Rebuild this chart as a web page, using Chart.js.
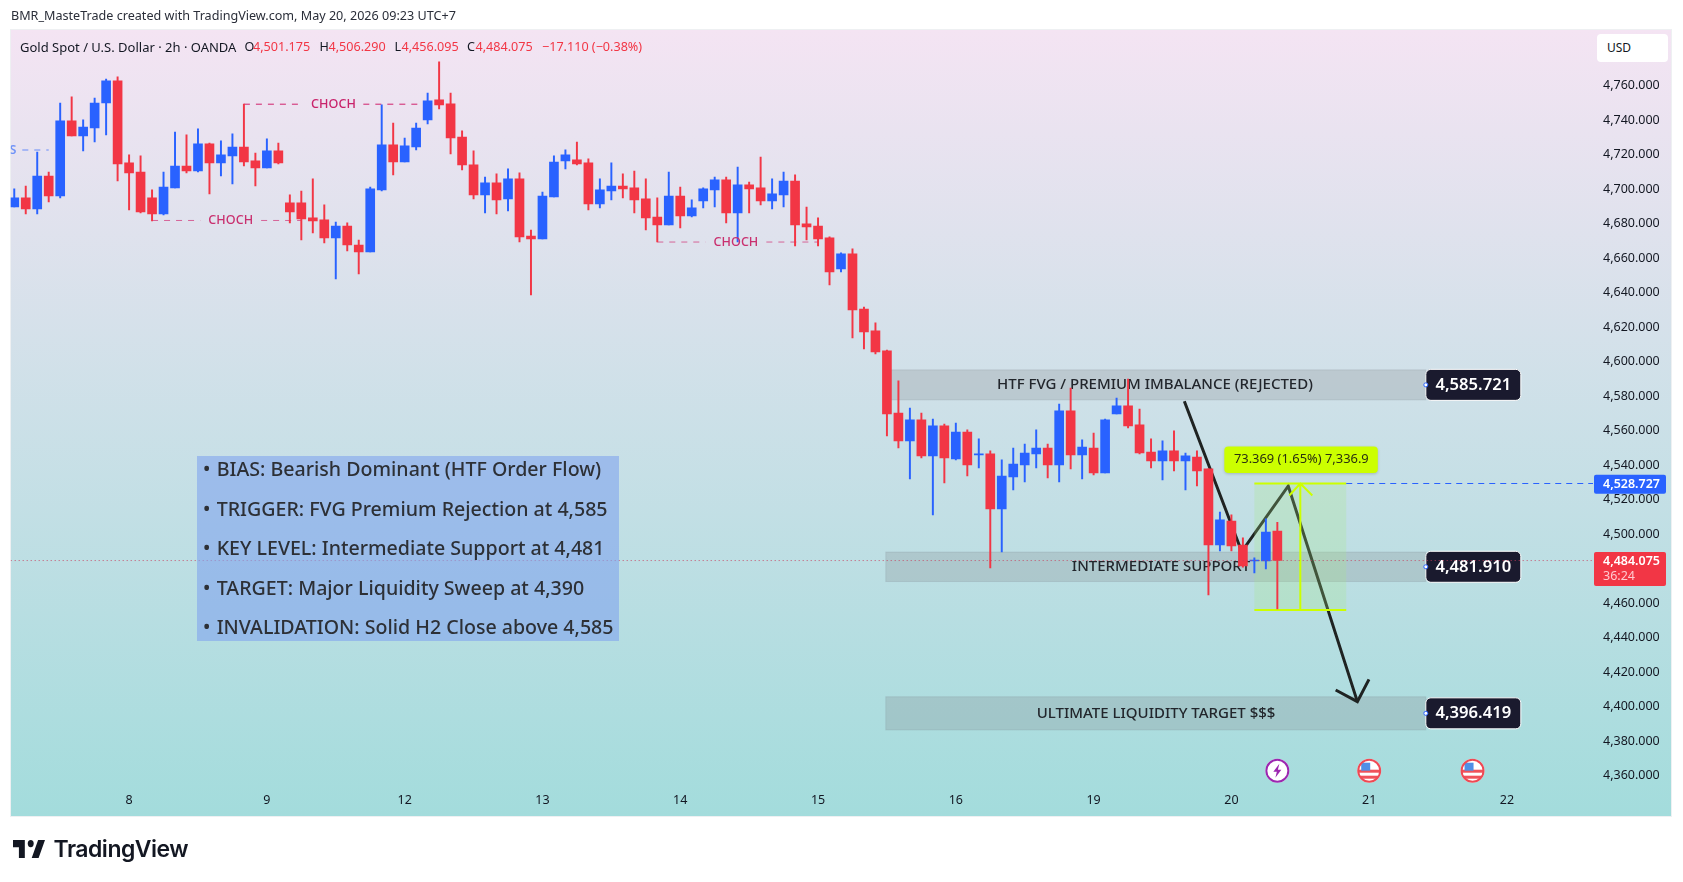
<!DOCTYPE html>
<html>
<head>
<meta charset="utf-8">
<title>Gold Spot / U.S. Dollar 2h</title>
<script src="https://cdn.jsdelivr.net/npm/chart.js"></script>
<style>
    html, body { margin: 0; padding: 0; background: #fff; width: 1683px; height: 882px; overflow: hidden; font-family: 'Noto Sans', sans-serif; }
    #pane { position: absolute; left: 10px; top: 29px; width: 1662px; height: 788px; border: 1px solid #eef0f2; box-sizing: border-box; background: linear-gradient(#f4e4f3, #a3dcdc); }
    canvas { position: absolute; left: 0; top: 0; }
    .t { position: absolute; white-space: pre; line-height: 18px; }
    #credit { left: 11px; top: 7px; font-size: 12.6px; color: #2a2e39; }
    #legend span { position: absolute; top: 38px; white-space: pre; line-height: 18px; font-size: 12.6px; color: #131722; }
    #legend .title { font-size: 13px; }
    #legend .r { color: #f23645; }
    #usd { position: absolute; left: 1597px; top: 34px; width: 71px; height: 28px; background: #fff; border-radius: 4px; font-size: 12px; line-height: 28px; color: #131722; text-indent: 10px; }
    #info { position: absolute; left: 197px; top: 456px; width: 422px; height: 185px; background: rgba(130, 167, 238, 0.62); }
    #info div { position: absolute; left: 6px; white-space: pre; height: 26px; line-height: 26px; font-size: 19.6px; font-weight: 500; color: #2d3036; }
    #info i { display: inline-block; width: 13.7px; font-style: normal; }
    #logo { position: absolute; left: 13px; top: 840px; }
    #logoText { position: absolute; left: 53.5px; top: 832px; font-family: Inter, sans-serif; font-weight: 600; font-size: 23px; line-height: 34px; letter-spacing: -0.5px; color: #131722; }
</style>
</head>
<body>
<div id="pane"></div>
<canvas id="chart" width="1683" height="882"></canvas>
<div class="t" id="credit">BMR_MasteTrade created with TradingView.com, May 20, 2026 09:23 UTC+7</div>
<div id="legend"></div>
<div id="usd">USD</div>
<div id="info"></div>
<svg id="logo" width="32" height="18" viewBox="2 6 32.5 15" preserveAspectRatio="none"><path d="M14 6H2v6h6v9h6V6zM28 21h-7l6.5-15h7L28 21z" fill="#131722"/><circle cx="20" cy="9" r="3" fill="#131722"/></svg>
<div id="logoText">TradingView</div>

<script>
// 2h bars, oldest first
const opens = [4689,4694.3,4687.9,4707,4695.4,4738.9,4730.2,4734.8,4749.3,4762.1,4714.6,4709.3,4694.3,4685,4700.1,4712.8,4709.9,4725.6,4714.6,4718.6,4723.8,4715.7,4711.7,4721.5,4691.4,4691.4,4682.7,4681.5,4671.1,4678,4667,4663,4698.9,4725,4715.1,4723.8,4739.5,4751.1,4748.8,4729.6,4713.4,4696,4703,4693.7,4705.3,4672.2,4670.5,4694.8,4715.7,4716.3,4714.6,4690.8,4698.3,4701.2,4700.1,4693.7,4683.2,4678.6,4695.4,4683.8,4692.5,4698.9,4704.7,4685.6,4701.8,4700.1,4692.5,4696,4704.1,4679.2,4678,4671.1,4653.1,4661.8,4629.9,4617.2,4605.6,4569.6,4553.4,4565.6,4544.7,4562.1,4543,4558.6,4545.3,4545.9,4514,4532.5,4539.5,4545.9,4549.3,4539.5,4570.8,4545.3,4549.3,4534.8,4569,4573.7,4562.7,4547,4541.8,4547.6,4541.8,4544.1,4537.2,4493.1,4507,4493.1,4483.8,4483.8,4501.175];
const highs = [4699.5,4701.2,4720.9,4709.3,4749.3,4752.8,4739.5,4752.2,4763.1,4764.4,4719.2,4718.6,4698.9,4709.3,4732.5,4730.8,4734.3,4726.1,4727.3,4731.4,4748.6,4720.3,4728.5,4726.1,4696,4698.3,4705.3,4690.2,4680.3,4679.8,4669.9,4700.6,4748.2,4737.7,4729,4737.7,4755.1,4773.1,4755.1,4733.1,4721.5,4706.4,4708.2,4711.1,4708.8,4675.7,4697.7,4718.6,4722.1,4726.7,4716.9,4705.3,4714.6,4708.2,4709.9,4705.3,4694.3,4709.3,4700.6,4693.1,4700.1,4706.4,4706.4,4712.2,4703.5,4718,4705.3,4709.3,4707.6,4689,4682.7,4671.7,4662.4,4664.7,4631,4621.8,4606.1,4588.2,4572.5,4569.6,4566.1,4563.2,4563.8,4559.8,4554.6,4547.6,4542.4,4549.3,4551.6,4559.8,4551.6,4574.8,4584.1,4554,4558,4566.1,4578.3,4589.3,4571.9,4554.6,4553.4,4559.2,4546.4,4547.6,4537.2,4512.2,4510.5,4497.2,4485.6,4508.2,4506.29];
const lows = [4689,4685,4685,4691.9,4694.3,4730.2,4721.5,4726.7,4730.8,4704.1,4687.3,4685.6,4680.9,4684.4,4700.1,4708.8,4709.3,4696.6,4707,4702.4,4712.8,4701.2,4711.7,4714,4679.8,4669.9,4674,4668.2,4647.3,4663.5,4650.2,4663,4698.3,4707.6,4715.1,4722.1,4737.2,4745.9,4719.8,4710.5,4693.7,4685.6,4685,4686.7,4668.8,4638,4670.5,4694.8,4711.1,4713.4,4687.3,4688.5,4693.1,4694.3,4685.6,4675.7,4668.8,4678.6,4676.9,4683.2,4688.5,4689,4679.8,4668.8,4685.6,4690.2,4687.9,4689,4666.4,4669.9,4666.4,4643.8,4651.4,4613.1,4606.7,4603.8,4556.3,4549.3,4531.4,4543.5,4510.5,4529,4542.4,4533.1,4537.7,4479.8,4489,4525,4529.6,4537.7,4532,4529.6,4537.2,4531.4,4533.7,4534.8,4569,4560.9,4545.9,4537.7,4530.8,4536,4525,4527.3,4464.1,4489.6,4489.6,4480.3,4476.9,4479.2,4456.095];
const closes = [4694.3,4687.9,4707,4695.4,4738.9,4730.2,4735.4,4749.3,4762.1,4714,4708.8,4686.1,4685,4700.6,4712.8,4709.9,4725.6,4714.6,4719.2,4723.8,4715.1,4711.7,4721.5,4714.6,4686.1,4682.1,4680.9,4671.1,4678,4667,4663,4699.5,4725,4715.1,4724.4,4734.8,4750.5,4748.2,4729,4713.4,4696,4703,4693.1,4705.3,4671.7,4670.5,4695.4,4715.1,4719.2,4714,4690.8,4698.9,4701.2,4699.5,4693.1,4682.7,4678.6,4695.4,4683.8,4688.5,4699.5,4704.7,4685.6,4701.8,4699.5,4692.5,4696.6,4704.1,4678.6,4677.5,4670.5,4651.4,4661.8,4629.3,4616.6,4605,4569,4553.4,4565.6,4544.7,4562.1,4543.5,4558.6,4539.5,4545.9,4514,4533.1,4540,4546.4,4549.3,4539.5,4570.8,4545.3,4549.9,4534.8,4565.6,4573.7,4562.1,4546.4,4541.8,4547.6,4541.8,4544.7,4536,4493.1,4507.6,4492.5,4480.9,4484.4,4500.6,4484.075];

const priceTicks = [4760,4740,4720,4700,4680,4660,4640,4620,4600,4580,4560,4540,4520,4500,4480,4460,4440,4420,4400,4380,4360];
const dayTicks = [10,22,34,46,58,70,82,94,106,118,130];
const dayLabels = ['8','9','12','13','14','15','16','19','20','21','22'];

// CHOCH markers: [start, gap start, gap end, end] in bars, and the price they sit on
const chochX = [[20,25.2,30.4,35.6],[12,16.2,21.5,25],[56,60.2,65.5,70]];
const chochY = [4748.6,4681.2,4668.7];

// price zones drawn on the right side
const zoneNames = ['HTF FVG / PREMIUM IMBALANCE (REJECTED)','INTERMEDIATE SUPPORT','ULTIMATE LIQUIDITY TARGET $$$'];
const zoneTop = [4594.6,4489,4405.1];
const zoneBottom = [4577.2,4471.9,4385.9];
const zoneLevels = [4585.721,4481.910,4396.419];
const zoneStart = 75.9, zoneEnd = 122.93;
const zoneTextX = [99.34,99.87,99.44];

// hand drawn path and arrow head
const pathX = [101.9,106.9,110.95,116.97];
const pathY = [4576.4,4489.2,4527.3,4402.3];
const headX = [115.08,116.97,117.98];
const headY = [4409,4402.3,4415.2];

// price range tool
const toolStart = 108, toolEnd = 116, toolMid = 112;
const toolHigh = 4528.727, toolLow = 4455.358;
const toolText = '73.369 (1.65%) 7,336.9';

const oldLineX = [0.7,3], oldLineY = 4722;
const eventBars = [110,118,127];
const eventKinds = ['bolt','flag','flag'];

const infoLines = [
    'BIAS: Bearish Dominant (HTF Order Flow)',
    'TRIGGER: FVG Premium Rejection at 4,585',
    'KEY LEVEL: Intermediate Support at 4,481',
    'TARGET: Major Liquidity Sweep at 4,390',
    'INVALIDATION: Solid H2 Close above 4,585'
];

const UP = '#2962ff', DOWN = '#f23645', CHOCH = '#d0206a', TOOL = '#ccff00', DARK = '#1f2322';
const FONT = "'Noto Sans', sans-serif";
const num3 = v => v.toLocaleString('en-US', { minimumFractionDigits: 3, maximumFractionDigits: 3 });

// legend text
const legendBits = [
    [20, 'Gold Spot / U.S. Dollar · 2h · OANDA', 'title'], [244.5, 'O', ''], [253, num3(opens[110]), 'r'],
    [319.5, 'H', ''], [328.5, num3(highs[110]), 'r'], [394.5, 'L', ''], [401.5, num3(lows[110]), 'r'],
    [467, 'C', ''], [475.5, num3(closes[110]), 'r'], [542, '−17.110 (−0.38%)', 'r']
];
document.getElementById('legend').innerHTML = legendBits.map(b =>
    `<span class="${b[2]}" style="left:${b[0]}px">${b[1]}</span>`).join('');
document.getElementById('info').innerHTML = infoLines.map((l, i) =>
    `<div style="top:${0.3 + i * 39.5}px"><i>•</i>${l}</div>`).join('');

const bars = opens.map((o, i) => ({ o, h: highs[i], l: lows[i], c: closes[i], i }));
const barColors = bars.map(b => b.c >= b.o ? UP : DOWN);

function drawText(ctx, text, x, y, font, color, align) {
    ctx.font = font;
    ctx.fillStyle = color;
    ctx.textAlign = align || 'center';
    ctx.textBaseline = 'middle';
    ctx.fillText(text, x, y);
}

function roundBox(ctx, x, y, w, h, r, fill, stroke) {
    ctx.beginPath();
    ctx.roundRect(x, y, w, h, r);
    ctx.fillStyle = fill;
    ctx.fill();
    if (stroke) { ctx.strokeStyle = stroke; ctx.lineWidth = 1; ctx.stroke(); }
}

const drawings = {
    id: 'drawings',
    beforeDatasetsDraw(chart) {
        const { ctx, scales: { x, y } } = chart;
        ctx.save();
        zoneNames.forEach((name, i) => {
            const x0 = x.getPixelForValue(zoneStart), x1 = x.getPixelForValue(zoneEnd);
            const y0 = y.getPixelForValue(zoneTop[i]), y1 = y.getPixelForValue(zoneBottom[i]);
            ctx.fillStyle = 'rgba(128,131,135,0.25)';
            ctx.fillRect(x0, y0, x1 - x0, y1 - y0);
            ctx.strokeStyle = 'rgba(120,123,134,0.2)';
            ctx.lineWidth = 1;
            ctx.strokeRect(x0, y0, x1 - x0, y1 - y0);
            drawText(ctx, name, x.getPixelForValue(zoneTextX[i]), (y0 + y1) / 2, `500 15px ${FONT}`, '#22262c');
        });
        zoneLevels.forEach((lvl, i) => {
            const x0 = x.getPixelForValue(zoneEnd);
            const mid = (y.getPixelForValue(zoneTop[i]) + y.getPixelForValue(zoneBottom[i])) / 2;
            roundBox(ctx, x0, mid - 15.5, 95, 31, 5, '#1a1a2e', '#ffffff');
            ctx.beginPath();
            ctx.arc(x0, mid, 2, 0, Math.PI * 2);
            ctx.fillStyle = '#fff'; ctx.fill();
            ctx.strokeStyle = UP; ctx.lineWidth = 1; ctx.stroke();
            drawText(ctx, num3(lvl), x0 + 47.5, mid, `600 16.6px ${FONT}`, '#ffffff');
        });
        // event icons
        eventBars.forEach((b, i) => {
            const cx = x.getPixelForValue(b), cy = 770.7, r = 11;
            ctx.beginPath(); ctx.arc(cx, cy, r + 1, 0, Math.PI * 2);
            ctx.fillStyle = '#fff'; ctx.fill();
            if (eventKinds[i] === 'bolt') {
                ctx.beginPath(); ctx.arc(cx, cy, r, 0, Math.PI * 2);
                ctx.strokeStyle = '#9c27b0'; ctx.lineWidth = 2; ctx.stroke();
                ctx.beginPath();
                [[2,-7],[-4,1],[-0.5,1],[-2,7],[4,-1],[0.5,-1]].forEach((p, k) =>
                    k ? ctx.lineTo(cx + p[0], cy + p[1]) : ctx.moveTo(cx + p[0], cy + p[1]));
                ctx.closePath(); ctx.fillStyle = '#9c27b0'; ctx.fill();
            } else {
                ctx.save();
                ctx.beginPath(); ctx.arc(cx, cy, r, 0, Math.PI * 2); ctx.clip();
                ctx.fillStyle = '#f0525a';
                ctx.fillRect(cx - r, cy - 1, r * 2, 3);
                ctx.fillRect(cx - r, cy + 5, r * 2, 3);
                ctx.fillStyle = '#4f8fe6';
                ctx.fillRect(cx - 8, cy - 8, 9, 8);
                ctx.restore();
                ctx.beginPath(); ctx.arc(cx, cy, r, 0, Math.PI * 2);
                ctx.strokeStyle = '#ee4a55'; ctx.lineWidth = 2; ctx.stroke();
            }
        });
        ctx.restore();
    },
    beforeDatasetDraw(chart, args) {
        if (chart.data.datasets[args.index].label !== 'wicks') return;
        const { ctx, scales: { x, y } } = chart;
        const x0 = x.getPixelForValue(toolStart), x1 = x.getPixelForValue(toolEnd), xm = x.getPixelForValue(toolMid);
        const y0 = y.getPixelForValue(toolHigh), y1 = y.getPixelForValue(toolLow);
        ctx.save();
        ctx.fillStyle = 'rgba(169,231,136,0.25)';
        ctx.fillRect(x0, y0, x1 - x0, y1 - y0);
        ctx.strokeStyle = TOOL; ctx.lineWidth = 2;
        ctx.beginPath();
        ctx.moveTo(x0, y0); ctx.lineTo(x1, y0);
        ctx.moveTo(x0, y1); ctx.lineTo(x1, y1);
        ctx.moveTo(xm, y1); ctx.lineTo(xm, y0);
        ctx.moveTo(xm - 11, y0 + 12); ctx.lineTo(xm, y0); ctx.lineTo(xm + 12, y0 + 12);
        ctx.stroke();
        ctx.restore();
    },
    afterDraw(chart) {
        const { ctx, scales: { x, y }, chartArea: a } = chart;
        ctx.save();
        // CHOCH captions
        chochX.forEach((c, i) => {
            drawText(ctx, 'CHOCH', x.getPixelForValue((c[1] + c[2]) / 2), y.getPixelForValue(chochY[i]), `500 12.6px ${FONT}`, i === 0 ? '#c9236b' : '#c9306f');
        });
        // cut off label of an older level at the left edge
        ctx.save();
        ctx.beginPath(); ctx.rect(a.left, a.top, 60, 200); ctx.clip();
        drawText(ctx, 'S', a.left - 1, y.getPixelForValue(oldLineY), `600 12px ${FONT}`, '#6f93f7', 'left');
        ctx.restore();

        // measure label
        ctx.shadowColor = 'rgba(0,0,0,0.18)'; ctx.shadowBlur = 3; ctx.shadowOffsetY = 1;
        const tx = x.getPixelForValue(toolMid);
        roundBox(ctx, tx - 76, y.getPixelForValue(toolHigh) - 37, 153.5, 26.4, 4, TOOL);
        ctx.shadowColor = 'transparent'; ctx.shadowBlur = 0; ctx.shadowOffsetY = 0;
        drawText(ctx, toolText, tx + 1, y.getPixelForValue(toolHigh) - 23.8, `12.9px ${FONT}`, '#2a3010');

        // price tags on the axis
        const py0 = y.getPixelForValue(toolHigh);
        roundBox(ctx, 1594, py0 - 8.8, 72, 19, 2, UP);
        drawText(ctx, num3(toolHigh), 1603, py0 + 0.7, `600 12.5px ${FONT}`, '#ffffff', 'left');
        roundBox(ctx, 1594, 552, 72, 34, 2, DOWN);
        drawText(ctx, num3(closes[110]), 1603, 561, `600 12.5px ${FONT}`, '#ffffff', 'left');
        drawText(ctx, '36:24', 1603, 576, `12.5px ${FONT}`, '#ffc9cf', 'left');
        ctx.restore();
    }
};

const lineSet = (label, data, color, width, dash, order) => ({
    type: 'line', label, data, borderColor: color, borderWidth: width, borderDash: dash || [],
    pointRadius: 0, tension: 0, fill: false, order, borderJoinStyle: 'miter', borderCapStyle: 'butt', spanGaps: false
});

const chochSets = chochX.map((c, i) => lineSet('choch' + i, [
    { x: c[0], y: chochY[i] }, { x: c[1], y: chochY[i] }, { x: c[1], y: null },
    { x: c[2], y: chochY[i] }, { x: c[3], y: chochY[i] }
], i === 0 ? CHOCH : 'rgba(208,32,106,0.65)', 1, [6, 6], 3));

new Chart(document.getElementById('chart'), {
    type: 'bar',
    data: {
        datasets: [
            lineSet('close', [{ x: -0.31, y: closes[110] }, { x: 137.5, y: closes[110] }], 'rgba(200,60,90,0.85)', 1, [1, 3], 0),
            lineSet('tool level', [{ x: toolEnd, y: toolHigh }, { x: 137.5, y: toolHigh }], UP, 1, [6, 5], 0),
            { label: 'bodies', data: bars.map(b => ({ x: b.i, y: [b.o, b.c] })), backgroundColor: barColors, barThickness: 9, grouped: false, order: 1 },
            { label: 'wicks', data: bars.map(b => ({ x: b.i, y: [b.l, b.h] })), backgroundColor: barColors, barThickness: 1.3, grouped: false, order: 2 },
            ...chochSets,
            lineSet('old level', [{ x: oldLineX[0], y: oldLineY }, { x: oldLineX[1], y: oldLineY }], 'rgba(41,98,255,0.45)', 1.5, [6, 6], 3),
            lineSet('path', pathX.map((v, i) => ({ x: v, y: pathY[i] })), DARK, 3, [], 3),
            lineSet('head', headX.map((v, i) => ({ x: v, y: headY[i] })), DARK, 3, [], 3)
        ]
    },
    plugins: [drawings],
    options: {
        responsive: false,
        animation: false,
        devicePixelRatio: 1,
        layout: { padding: { left: 10.7, top: 29.5, right: 0, bottom: 0 } },
        plugins: { legend: { display: false }, tooltip: { enabled: false } },
        scales: {
            x: {
                type: 'linear', offset: false, min: -0.31, max: 137.49,
                grid: { display: false, drawTicks: false }, border: { display: false },
                afterBuildTicks: s => { s.ticks = dayTicks.map(value => ({ value })); },
                afterFit: s => { s.height = 95; },
                ticks: {
                    autoSkip: false, maxRotation: 0, padding: 6, color: '#131722',
                    font: { family: FONT, size: 12.5 },
                    callback: v => dayLabels[dayTicks.indexOf(v)]
                }
            },
            y: {
                position: 'right', min: 4352.8, max: 4791.9,
                grid: { display: false, drawTicks: false }, border: { display: false },
                afterBuildTicks: s => { s.ticks = priceTicks.map(value => ({ value })); },
                afterFit: s => { s.width = 90; },
                ticks: {
                    autoSkip: false, padding: 10, labelOffset: 1, color: '#131722',
                    font: { family: FONT, size: 12.5 },
                    callback: v => num3(v)
                }
            }
        }
    }
});
</script>
</body>
</html>
